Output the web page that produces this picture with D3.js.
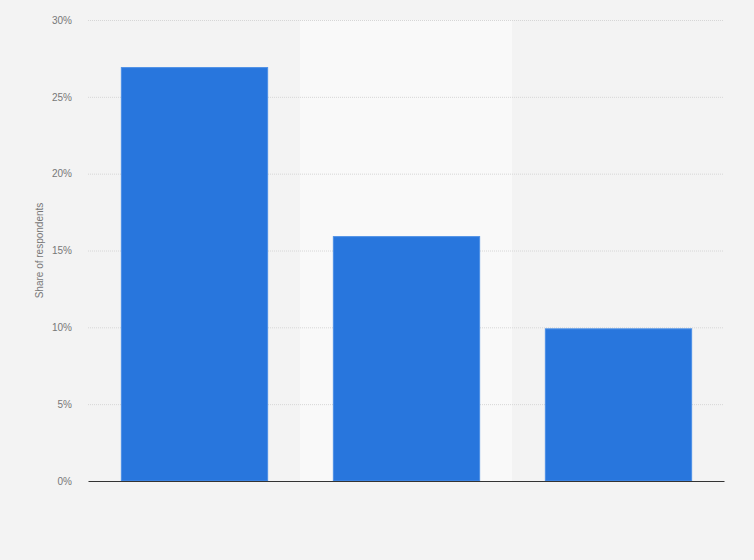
<!DOCTYPE html>
<html>
<head>
<meta charset="utf-8">
<script src="https://cdn.jsdelivr.net/npm/d3@7"></script>
<style>
  html, body { margin: 0; padding: 0; background: #f3f3f3; }
  svg { display: block; font-family: Arial, "Liberation Sans", sans-serif; }
</style>
</head>
<body>
<div id="chart"></div>
<script>
// chart data
const categories = ["1", "2", "3"];
const shares = [27, 16, 10];
const yTicks = [0, 5, 10, 15, 20, 25, 30];

const width = 754, height = 560;
const margin = { top: 20, right: 30, bottom: 79, left: 88 };
const innerW = width - margin.left - margin.right;
const innerH = height - margin.top - margin.bottom;

const svg = d3.select("#chart")
    .append("svg")
    .attr("width", width)
    .attr("height", height);

svg.append("rect")
    .attr("width", width)
    .attr("height", height)
    .attr("fill", "#f3f3f3");

const g = svg.append("g")
    .attr("transform", `translate(${margin.left},${margin.top})`);

const x = d3.scaleBand()
    .domain(categories)
    .range([0, innerW])
    .paddingInner(0.31)
    .paddingOuter(0.155);

const bandX = d3.scaleBand()
    .domain(categories)
    .range([0, innerW]);

const y = d3.scaleLinear()
    .domain([0, 30])
    .range([innerH, 0]);

// alternating column background
g.selectAll("rect.band")
    .data(categories.filter((d, i) => i % 2 === 1))
    .enter().append("rect")
    .attr("class", "band")
    .attr("x", d => bandX(d))
    .attr("y", 0)
    .attr("width", bandX.bandwidth())
    .attr("height", innerH)
    .attr("fill", "#f9f9f9");

// gridlines
g.append("g")
    .selectAll("line")
    .data(yTicks.filter(t => t > 0))
    .enter().append("line")
    .attr("x1", 0)
    .attr("x2", innerW)
    .attr("y1", d => y(d) + 0.5)
    .attr("y2", d => y(d) + 0.5)
    .attr("stroke", "#d6d6d6")
    .attr("stroke-width", 1)
    .attr("stroke-dasharray", "1,1");

// y axis labels
const yAxis = g.append("g")
    .call(d3.axisLeft(y).tickValues(yTicks).tickFormat(d => d + "%").tickSize(0).tickPadding(16));
yAxis.select(".domain").remove();
yAxis.selectAll("text")
    .attr("fill", "#777")
    .style("font-size", "10px");

// bars
g.selectAll("rect.bar")
    .data(shares)
    .enter().append("rect")
    .attr("class", "bar")
    .attr("x", (d, i) => x(categories[i]) + 0.5)
    .attr("y", d => y(d) + 1.5)
    .attr("width", x.bandwidth())
    .attr("height", d => innerH - y(d) - 1.5)
    .attr("fill", "#2876dd")
    .attr("stroke", "#4c8fe6")
    .attr("stroke-width", 1);

// baseline
g.append("g")
    .attr("transform", `translate(0,${innerH})`)
    .call(d3.axisBottom(bandX).tickSize(0).tickFormat(""))
    .select(".domain")
    .attr("stroke", "#333")
    .attr("stroke-width", 1.2);

// y axis title
svg.append("text")
    .attr("transform", `translate(43,${margin.top + innerH / 2}) rotate(-90)`)
    .attr("text-anchor", "middle")
    .attr("fill", "#777")
    .style("font-size", "10px")
    .text("Share of respondents");
</script>
</body>
</html>
